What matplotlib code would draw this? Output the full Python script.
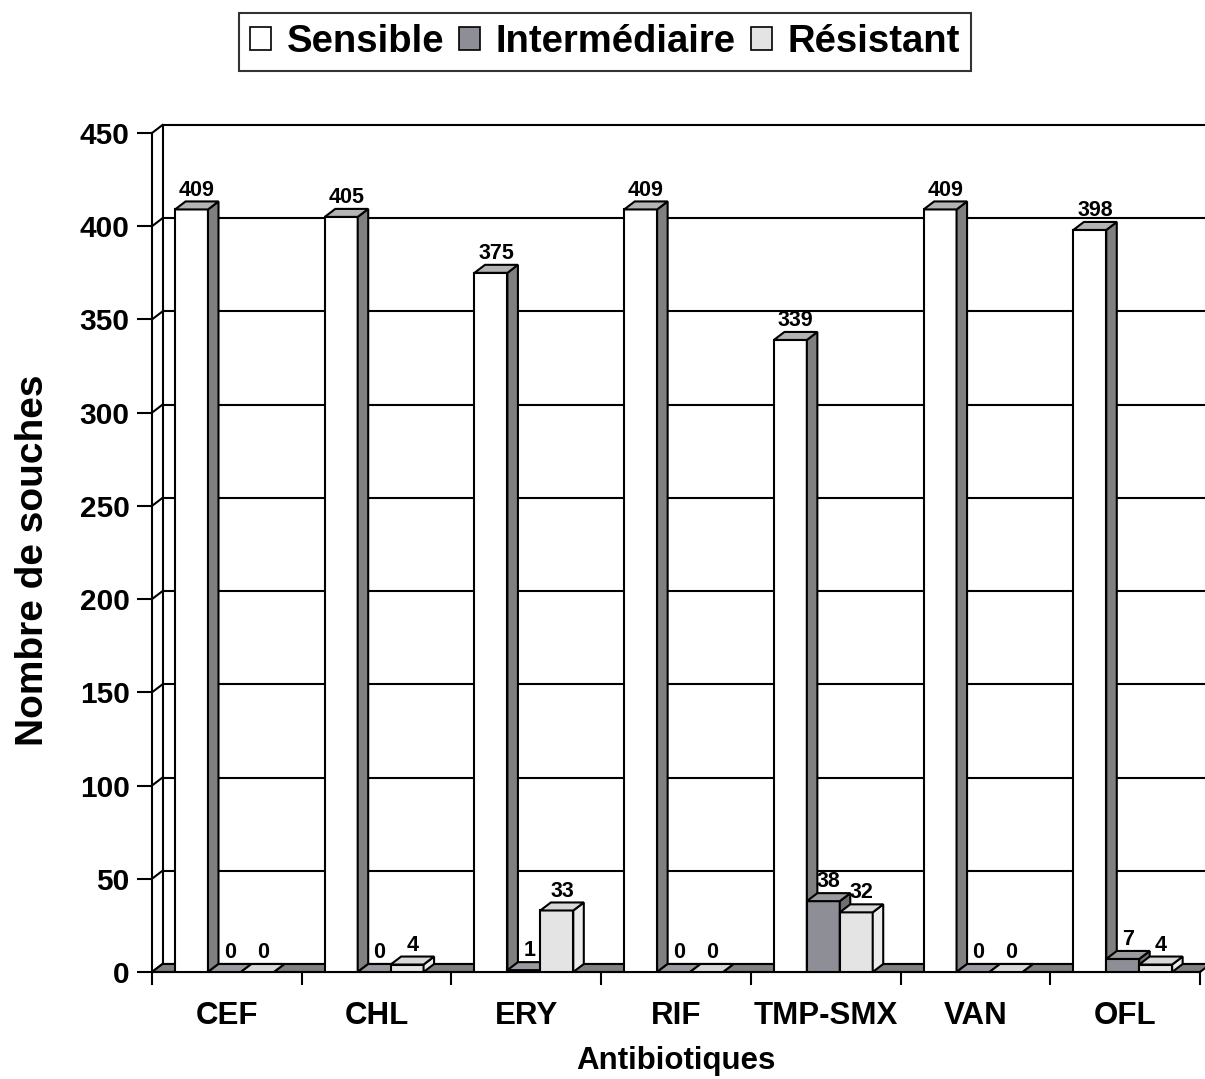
import numpy as np
import matplotlib
matplotlib.use('Agg')
import matplotlib.pyplot as plt
from matplotlib.patches import Polygon, Patch

plt.rcParams['font.family'] = ['Liberation Sans', 'DejaVu Sans']
plt.rcParams['font.weight'] = 'bold'

categories = ['CEF', 'CHL', 'ERY', 'RIF', 'TMP-SMX', 'VAN', 'OFL']
series = ['Sensible', 'Intermédiaire', 'Résistant']
sensible = [409, 405, 375, 409, 339, 409, 398]
intermediaire = [0, 0, 1, 0, 38, 0, 7]
resistant = [0, 4, 33, 0, 32, 0, 4]
y_ticks = [0, 50, 100, 150, 200, 250, 300, 350, 400, 450]

values = [sensible, intermediaire, resistant]
front_col = ['#ffffff', '#8e8e96', '#e4e4e4']
top_col = ['#b4b4b4', '#9a9aa0', '#d8d8d8']
side_col = ['#808080', '#6e6e74', '#ececec']

W, H = 1205, 1079
fig = plt.figure(figsize=(W / 100, H / 100), dpi=100)
ax = fig.add_axes([152 / W, 107 / H, 1048 / W, 839 / H])
ax.set_xlim(-0.5, 6.5)
ax.set_ylim(0, 450)

# depth of the 3d look, in data units
dx = 10.5 / 149.7
dy = 8 * 450 / 839
bw = 0.22
offs = [-0.236, -0.016, 0.204]
lw = 1.5

# back wall + side wall
x0, x1 = -0.5, 6.5
for v in y_ticks:
    ax.plot([x0 + dx, x1 + dx + 0.1], [v + dy, v + dy], color='black', lw=lw,
            zorder=0.5, clip_on=False)
    ax.plot([x0, x0 + dx], [v, v + dy], color='black', lw=lw, zorder=0.5, clip_on=False)
ax.plot([x0 + dx, x0 + dx], [dy, 450 + dy], color='black', lw=lw, zorder=0.5, clip_on=False)

# floor
floor = Polygon([(x0, 0), (x1, 0), (x1 + dx, dy), (x0 + dx, dy)], closed=True,
                facecolor='#808080', edgecolor='black', lw=lw, zorder=1, clip_on=False)
ax.add_patch(floor)

x = np.arange(len(categories))
for s in range(3):
    xs = x + offs[s]
    ax.bar(xs, values[s], width=bw, color=front_col[s], edgecolor='black',
           linewidth=lw, zorder=3 + s)
    for xc, v in zip(xs, values[s]):
        l, r = xc - bw / 2, xc + bw / 2
        top = Polygon([(l, v), (r, v), (r + dx, v + dy), (l + dx, v + dy)], closed=True,
                      facecolor=top_col[s], edgecolor='black', lw=lw, zorder=3 + s)
        side = Polygon([(r, 0), (r + dx, dy), (r + dx, v + dy), (r, v)], closed=True,
                       facecolor=side_col[s], edgecolor='black', lw=lw, zorder=3 + s)
        ax.add_patch(side)
        ax.add_patch(top)
        ax.text(xc + dx / 2, v + dy + 0.5, str(v), ha='center', va='bottom',
                fontsize=15.5, fontweight='bold', zorder=10)

for sp in ['top', 'right']:
    ax.spines[sp].set_visible(False)
ax.spines['left'].set_linewidth(lw)
ax.spines['bottom'].set_linewidth(lw)
ax.spines['bottom'].set_zorder(2)

ax.set_yticks(y_ticks)
ax.set_yticklabels([str(t) for t in y_ticks], fontsize=21.5, fontweight='bold')
ax.tick_params(axis='y', direction='out', length=11, width=lw, pad=5)

ax.set_xticks(np.arange(-0.5, 7, 1))
ax.set_xticklabels([])
ax.tick_params(axis='x', which='major', direction='out', length=9.5, width=lw)
ax.set_xticks(x, minor=True)
ax.set_xticklabels(categories, minor=True, fontsize=22.5, fontweight='bold')
ax.tick_params(axis='x', which='minor', length=0, pad=21)

fig.text(676 / W, 1 - 1061 / H, 'Antibiotiques', ha='center', va='center',
         fontsize=22.5, fontweight='bold')
fig.text(33 / W, 1 - 560 / H, 'Nombre de souches', ha='center', va='center',
         rotation=90, fontsize=28, fontweight='bold')

handles = [Patch(facecolor=front_col[s], edgecolor='black', lw=1.2) for s in range(3)]
leg = fig.legend(handles, series, loc='center', bbox_to_anchor=(605 / W, 1 - 42 / H),
                 ncol=3, frameon=True, fancybox=False, edgecolor='black',
                 handlelength=0.55, handleheight=0.55, handletextpad=0.4,
                 columnspacing=0.4, borderpad=0.3, borderaxespad=0,
                 prop={'weight': 'bold', 'size': 27.5})
leg.get_frame().set_linewidth(1.5)

fig.savefig('out.png', dpi=100)
